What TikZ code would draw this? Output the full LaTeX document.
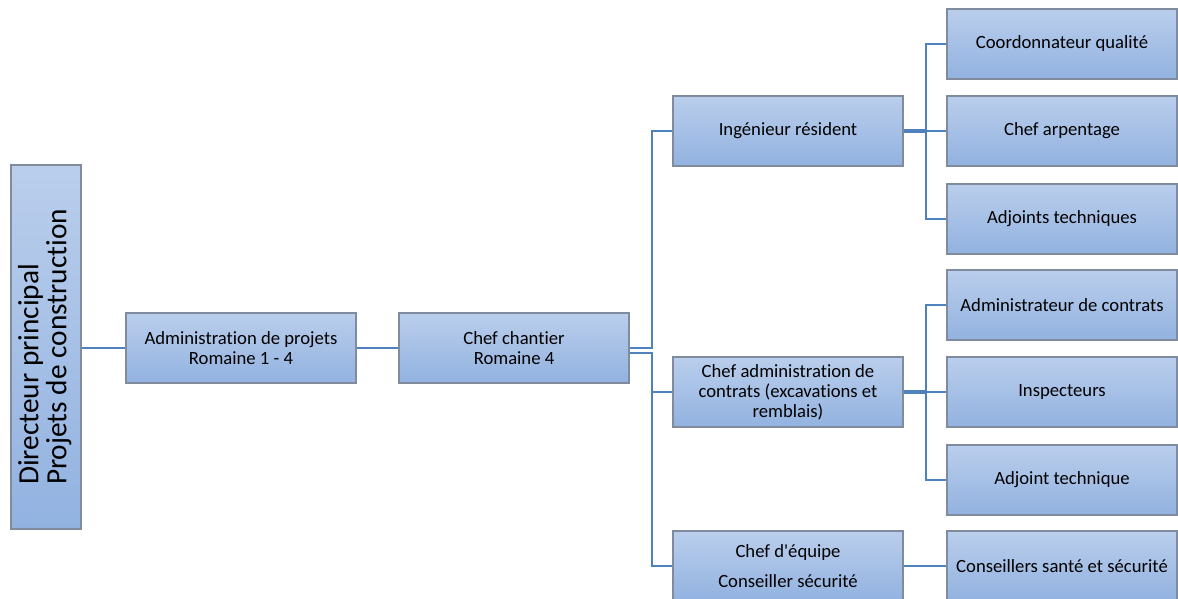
\documentclass[tikz,border=0pt]{standalone}
\usepackage{fontspec}
\usepackage{graphicx}
\setmainfont{Carlito}[Ligatures=CommonOff]
\usetikzlibrary{shadows}

\definecolor{boxtop}{RGB}{186,206,236}
\definecolor{boxbot}{RGB}{146,178,224}
\definecolor{boxedge}{RGB}{128,140,158}
\definecolor{linkblue}{RGB}{79,129,189}

\tikzset{
  orgbox/.style={draw=boxedge, line width=1pt, top color=boxtop, bottom color=boxbot,
    minimum width=172.5pt, minimum height=52.5pt, align=center, inner sep=2pt,
    drop shadow={shadow xshift=0.8pt, shadow yshift=-0.8pt, opacity=0.3},
    font=\fontsize{14}{15}\selectfont},
  link/.style={draw=linkblue, line width=2pt},
}

\begin{document}
\begin{tikzpicture}[x=0.75pt, y=-0.75pt]
\useasboundingbox (0,0) rectangle (1178,599);

% ---- left chain: director, projects, site ----
\node[orgbox, minimum width=52.5pt, minimum height=273pt] (dir) at (46,347)
  {\rotatebox{90}{\fontsize{22}{19}\selectfont\begin{tabular}{@{}l@{}}Directeur principal\\Projets de construction\end{tabular}}};
\node[orgbox] (admin) at (241,348) {Administration de projets\\Romaine 1 - 4};
\node[orgbox] (chantier) at (514,348) {Chef chantier\\Romaine 4};

% ---- middle column ----
\node[orgbox] (ing) at (788,131) {Ingénieur résident};
\node[orgbox] (chefadm) at (788,392) {Chef administration de\\contrats (excavations et\\remblais)};
\node[orgbox] (equipe) at (788,566) {Chef d\textquotesingle équipe\\[7pt]Conseiller sécurité};

% ---- right column ----
\node[orgbox] (qual) at (1062,44) {Coordonnateur qualité};
\node[orgbox] (arp) at (1062,131) {Chef arpentage};
\node[orgbox] (adjt) at (1062,219) {Adjoints techniques};
\node[orgbox] (admc) at (1062,305) {Administrateur de contrats};
\node[orgbox] (insp) at (1062,392) {Inspecteurs};
\node[orgbox] (adj) at (1062,480) {Adjoint technique};
\node[orgbox] (cons) at (1062,566) {Conseillers santé et sécurité};

% ---- bus points ----
\coordinate (busA) at (652,348);
\coordinate (busB) at (652,353);
\coordinate (busC) at (926,131);
\coordinate (busD) at (926,392);

% ---- links ----
\draw[link] (dir.east |- admin.west) -- (admin.west);
\draw[link] (admin.east) -- (chantier.west);
\draw[link] (chantier.east) -- (busA) |- (ing.west);
\draw[link] ([yshift=-3.75pt]chantier.east) -- (busB) |- (chefadm.west);
\draw[link] (busB) |- (equipe.west);
\draw[link, line width=2.6pt] (ing.east) -- (busC);
\draw[link] (busC) -- (arp.west);
\draw[link] (busC) |- (qual.west);
\draw[link] (busC) |- (adjt.west);
\draw[link, line width=2.6pt] (chefadm.east) -- (busD);
\draw[link] (busD) -- (insp.west);
\draw[link] (busD) |- (admc.west);
\draw[link] (busD) |- (adj.west);
\draw[link] (equipe.east) -- (cons.west);

\end{tikzpicture}
\end{document}
